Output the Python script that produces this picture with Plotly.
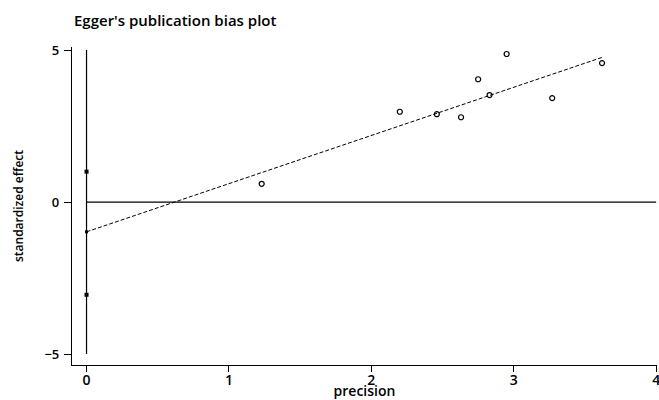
import plotly.graph_objects as go

# Study data: precision (1/SE) and standardized effect (effect/SE)
precision = [1.23, 2.20, 2.46, 2.63, 2.75, 2.83, 2.95, 3.27, 3.62]
std_effect = [0.60, 2.97, 2.89, 2.79, 4.04, 3.52, 4.87, 3.42, 4.57]

# Egger regression fit
intercept = -0.98
slope = 1.585

# Intercept confidence interval markers on x = 0
ci_points = [1.0, -3.05]
vline_y = [-5, 5]

font_family = "Open Sans, DejaVu Sans, sans-serif"

W, H = 659, 400

fig = go.Figure()

# vertical line at x = 0
fig.add_trace(go.Scatter(x=[0, 0], y=vline_y, mode="lines",
                         line=dict(color="black", width=1.2), hoverinfo="skip"))
# horizontal line at y = 0
fig.add_trace(go.Scatter(x=[0, 4], y=[0, 0], mode="lines",
                         line=dict(color="black", width=1.2), hoverinfo="skip"))
# regression line
x_end = max(precision)
fig.add_trace(go.Scatter(x=[0, x_end], y=[intercept, intercept + slope * x_end],
                         mode="lines",
                         line=dict(color="black", width=1, dash="4px,2px")))
# CI points
fig.add_trace(go.Scatter(x=[0] * len(ci_points), y=ci_points, mode="markers",
                         marker=dict(color="black", size=4, symbol="square")))
fig.add_trace(go.Scatter(x=[0], y=[intercept], mode="markers",
                         marker=dict(color="black", size=3, symbol="square")))
# study points
fig.add_trace(go.Scatter(x=precision, y=std_effect, mode="markers",
                         marker=dict(symbol="circle-open", size=5,
                                     color="black", line=dict(width=1.2))))

fig.update_layout(
    width=W, height=H,
    margin=dict(l=72, r=2, t=47, b=35),
    paper_bgcolor="white", plot_bgcolor="white",
    showlegend=False,
    font=dict(family=font_family, color="black", size=12, weight=600),
    title=dict(text="Egger's publication bias plot", x=74 / W, xanchor="left",
               y=1 - 21 / H, yanchor="middle",
               font=dict(family=font_family, size=15, color="black", weight=600)),
)
fig.update_xaxes(range=[-0.102, 4.006], tickvals=[0, 1, 2, 3, 4],
                 automargin=False, ticklabeloverflow="allow",
                 showline=True, linecolor="black", linewidth=1.2,
                 ticks="outside", ticklen=6, tickcolor="black", tickwidth=1.2,
                 ticklabelstandoff=-4,
                 showgrid=False, zeroline=False,
                 title=dict(text="precision", standoff=2,
                            font=dict(size=14, weight=600)),
                 tickfont=dict(size=14, weight=600))
fig.update_yaxes(range=[-5.36, 5.1], tickvals=[-5, 0, 5],
                 automargin=False,
                 showline=True, linecolor="black", linewidth=1.2,
                 ticks="outside", ticklen=7, tickcolor="black", tickwidth=1.2,
                 ticklabelstandoff=2,
                 showgrid=False, zeroline=False,
                 title=dict(text="standardized effect", standoff=18,
                            font=dict(size=12, weight=600)),
                 tickfont=dict(size=13, weight=600))

fig.write_html("out.html",
               config={"displayModeBar": False},
               post_script="document.body.style.margin='0';"
                           "document.body.style.overflow='hidden';")
